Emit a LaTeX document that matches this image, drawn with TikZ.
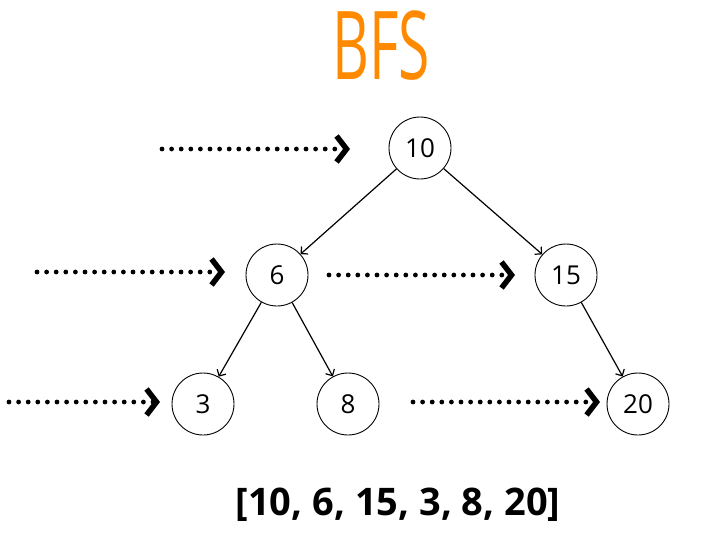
\documentclass[tikz,border=0pt]{standalone}
\usepackage{fontspec}
\setmainfont{Open Sans}
\usetikzlibrary{arrows.meta, positioning}
\definecolor{titleorange}{HTML}{FF8A00}
\tikzset{
    treenode/.style={
        circle, draw=black, line width=0.9pt, minimum size=62pt, inner sep=0pt,
        font=\fontsize{26}{30}\selectfont
    },
    edge/.style={
        -{Straight Barb[length=5pt, width=10pt]}, line width=1.2pt
    },
    levelarrow/.style={
        -{Straight Barb[length=10pt, width=26pt, line width=5.5pt]},
        line width=4.8pt, line cap=round, dash pattern=on 0pt off 9.6pt
    }
}

\begin{document}
\begin{tikzpicture}[x=1pt, y=-1pt]
    \useasboundingbox (0,0) rectangle (708,535);

    \node[text=titleorange, font=\fontsize{95}{100}\selectfont] (title) at (381,46)
        {\scalebox{0.6}[1]{BFS}};

    \node[treenode] (n10) at (420,148) {10};
    \node[treenode] (n6)  at (277,275) {6};
    \node[treenode] (n15) at (566,275) {15};
    \node[treenode] (n3)  at (203,404) {3};
    \node[treenode] (n8)  at (348,404) {8};
    \node[treenode] (n20) at (638,404) {20};

    \draw[edge] (n10) -- (n6);
    \draw[edge] (n10) -- (n15);
    \draw[edge] (n6)  -- (n3);
    \draw[edge] (n6)  -- (n8);
    \draw[edge] (n15) -- (n20);

    % level markers
    \coordinate (a1) at (162,149);  \coordinate (b1) at (350,149);
    \coordinate (a2) at (37,272);   \coordinate (b2) at (225,272);
    \coordinate (a3) at (329,275);  \coordinate (b3) at (515,275);
    \coordinate (a4) at (9,402);    \coordinate (b4) at (160,402);
    \coordinate (a5) at (413,402);  \coordinate (b5) at (600,402);

    \draw[levelarrow] (a1) -- (b1);
    \draw[levelarrow] (a2) -- (b2);
    \draw[levelarrow] (a3) -- (b3);
    \draw[levelarrow] (a4) -- (b4);
    \draw[levelarrow] (a5) -- (b5);

    \node[font=\bfseries\fontsize{38}{44}\selectfont] (order) at (398,505)
        {[10, 6, 15, 3, 8, 20]};

\end{tikzpicture}
\end{document}
